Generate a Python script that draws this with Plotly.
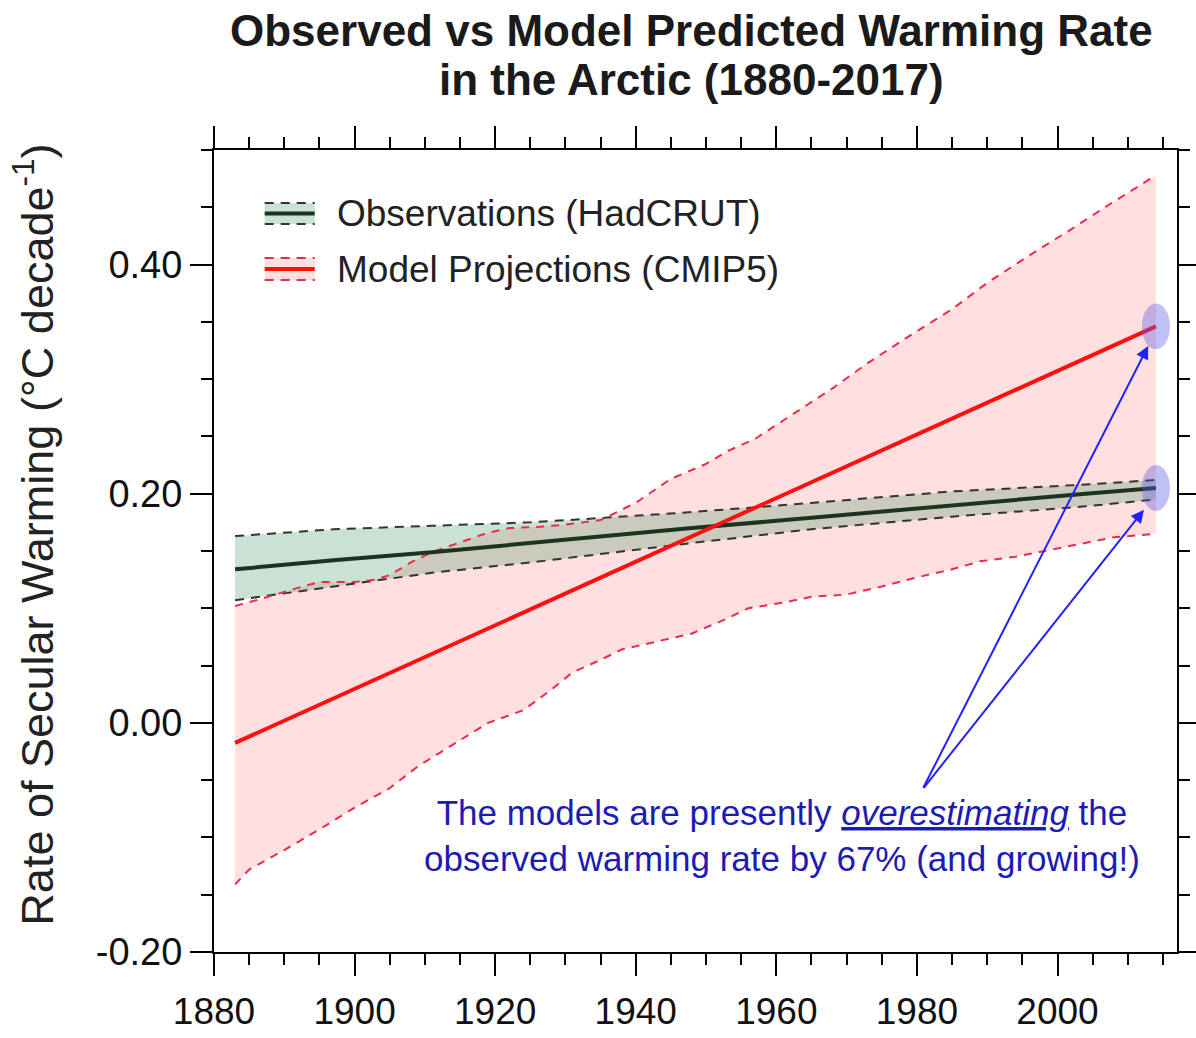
import plotly.graph_objects as go

# ---- Observations (HadCRUT): secular warming-rate trend and its envelope ----
obs_years = [1883, 1897, 1911, 1925, 1933, 1948, 1965, 1985, 2004, 2014]
obs_trend = [0.134, 0.142, 0.149, 0.157, 0.162, 0.170, 0.179, 0.190, 0.200, 0.205]
obs_upper = [0.163, 0.169, 0.172, 0.175, 0.178, 0.184, 0.192, 0.202, 0.208, 0.212]
obs_lower = [0.107, 0.119, 0.131, 0.140, 0.146, 0.157, 0.169, 0.180, 0.189, 0.195]

# ---- Model projections (CMIP5): ensemble trend and spread ----
model_years = [1883, 2014]
model_trend = [-0.0175, 0.346]

model_upper_years = [1883, 1886, 1892, 1895, 1900, 1903, 1905, 1908, 1911, 1916,
                     1919, 1922, 1926, 1930, 1935, 1940, 1945, 1950, 1953, 1957,
                     1962, 1968, 1973, 1979, 1985, 1990, 1996, 2002, 2007, 2014]
model_upper = [0.102, 0.107, 0.118, 0.123, 0.123, 0.125, 0.129, 0.140, 0.149, 0.160,
               0.166, 0.170, 0.171, 0.173, 0.177, 0.192, 0.213, 0.226, 0.237, 0.248,
               0.268, 0.292, 0.314, 0.338, 0.361, 0.384, 0.408, 0.431, 0.451, 0.478]

model_lower_years = [1883, 1885, 1890, 1895, 1900, 1905, 1909, 1914, 1919, 1924,
                     1928, 1931, 1935, 1938, 1943, 1948, 1953, 1956, 1961, 1965,
                     1970, 1975, 1980, 1985, 1989, 1994, 1999, 2004, 2008, 2014]
model_lower = [-0.141, -0.128, -0.111, -0.093, -0.074, -0.057, -0.038, -0.019, 0.000, 0.011,
               0.029, 0.044, 0.055, 0.064, 0.071, 0.078, 0.091, 0.100, 0.105, 0.110,
               0.112, 0.119, 0.127, 0.134, 0.141, 0.145, 0.151, 0.157, 0.162, 0.165]

# ---- Axis ticks ----
x_tick_vals = [1880, 1900, 1920, 1940, 1960, 1980, 2000]
y_tick_vals = [-0.2, 0.0, 0.2, 0.4]
y_tick_text = ["-0.20", "0.00", "0.20", "0.40"]

FONT = "Liberation Sans, Arial, Helvetica, sans-serif"

PINK_FILL = "rgba(255,150,150,0.30)"
GREEN_FILL = "rgba(80,160,110,0.30)"
OBS_LINE = "#1c3322"
OBS_DASH = "#333333"
MODEL_LINE = "#ff1010"
MODEL_DASH = "#ee2a4a"
BLUE = "#2222ff"
NOTE_BLUE = "#1c1cb4"

fig = go.Figure()

# model spread (pink band)
fig.add_trace(go.Scatter(
    x=model_upper_years + model_lower_years[::-1],
    y=model_upper + model_lower[::-1],
    fill="toself", fillcolor=PINK_FILL, line=dict(width=0),
    mode="lines", hoverinfo="skip", showlegend=False))

# observational envelope (green band)
fig.add_trace(go.Scatter(
    x=obs_years + obs_years[::-1],
    y=obs_upper + obs_lower[::-1],
    fill="toself", fillcolor=GREEN_FILL, line=dict(width=0),
    mode="lines", hoverinfo="skip", showlegend=False))

# dashed envelope edges
for ys in (obs_upper, obs_lower):
    fig.add_trace(go.Scatter(x=obs_years, y=ys, mode="lines",
                             line=dict(color=OBS_DASH, width=2, dash="9px,7px"),
                             showlegend=False))
fig.add_trace(go.Scatter(x=model_upper_years, y=model_upper, mode="lines",
                         line=dict(color=MODEL_DASH, width=2, dash="8px,7px"),
                         showlegend=False))
fig.add_trace(go.Scatter(x=model_lower_years, y=model_lower, mode="lines",
                         line=dict(color=MODEL_DASH, width=2, dash="8px,7px"),
                         showlegend=False))

# central trends
fig.add_trace(go.Scatter(x=obs_years, y=obs_trend, mode="lines",
                         line=dict(color=OBS_LINE, width=4),
                         name="Observations (HadCRUT)", showlegend=False))
fig.add_trace(go.Scatter(x=model_years, y=model_trend, mode="lines",
                         line=dict(color=MODEL_LINE, width=4),
                         name="Model Projections (CMIP5)", showlegend=False))

# highlight the present-day values
for yv in (model_trend[-1], obs_trend[-1]):
    fig.add_shape(type="circle", xref="x", yref="y",
                  x0=model_years[-1] - 2.0, x1=model_years[-1] + 2.0,
                  y0=yv - 0.020, y1=yv + 0.020,
                  fillcolor="rgba(90,90,230,0.38)", line=dict(width=0),
                  layer="above")

# arrows from the note to the highlighted values
tail_x, tail_y = 1980.8, -0.058
for hx, hy in ((model_years[-1] - 1.1, model_trend[-1] - 0.017),
               (obs_years[-1] - 1.7, obs_trend[-1] - 0.019)):
    fig.add_annotation(x=hx, y=hy, ax=tail_x, ay=tail_y,
                       xref="x", yref="y", axref="x", ayref="y",
                       text="", showarrow=True, arrowhead=2, arrowsize=1.3,
                       arrowwidth=2, arrowcolor=BLUE, standoff=0)

fig.add_annotation(
    x=1960.8, y=-0.098, xref="x", yref="y",
    text="The models are presently <i><u>overestimating</u></i> the<br>"
         "observed warming rate by 67% (and growing!)",
    showarrow=False, align="center", xanchor="center", yanchor="middle",
    font=dict(family=FONT, size=35, color=NOTE_BLUE))

# ---- hand-drawn legend (band + edges + central line) ----
def px_x(px):
    return (px - 214.3) / 962.7


def px_y(py):
    return (952.0 - py) / 802.0


legend_rows = [
    ("Observations (HadCRUT)", 213.5, 203, 224, GREEN_FILL, OBS_LINE, OBS_DASH),
    ("Model Projections (CMIP5)", 269.0, 258, 280, PINK_FILL, MODEL_LINE, MODEL_DASH),
]
for label, yc, ytop, ybot, fillc, linec, dashc in legend_rows:
    x0, x1 = px_x(265), px_x(315)
    fig.add_shape(type="rect", xref="paper", yref="paper",
                  x0=x0, x1=x1, y0=px_y(ybot), y1=px_y(ytop),
                  fillcolor=fillc, line=dict(width=0))
    for yy in (ytop, ybot):
        fig.add_shape(type="line", xref="paper", yref="paper",
                      x0=x0, x1=x1, y0=px_y(yy), y1=px_y(yy),
                      line=dict(color=dashc, width=2, dash="9px,7px"))
    fig.add_shape(type="line", xref="paper", yref="paper",
                  x0=x0, x1=x1, y0=px_y(yc), y1=px_y(yc),
                  line=dict(color=linec, width=4))
    fig.add_annotation(x=px_x(335), y=px_y(yc), xref="paper", yref="paper",
                       text=label, showarrow=False, xanchor="left", yanchor="middle",
                       font=dict(family=FONT, size=37, color="#222222"))

# title, one annotation per line for tight line spacing
title_lines = [("Observed vs Model Predicted Warming Rate", 30),
               ("in the Arctic (1880-2017)", 79)]
for line_text, yc in title_lines:
    fig.add_annotation(
        x=px_x(692), y=px_y(yc), xref="paper", yref="paper",
        text="<b>" + line_text + "</b>",
        showarrow=False, xanchor="center", yanchor="middle",
        font=dict(family=FONT, size=44, color="#1a1a1a"))

fig.add_annotation(
    x=px_x(34), y=px_y(535), xref="paper", yref="paper",
    text="Rate of Secular Warming (°C decade<sup>-1</sup>)",
    textangle=-90, showarrow=False, xanchor="center", yanchor="middle",
    font=dict(family=FONT, size=45, color="#222222"))

axis_common = dict(
    showgrid=False, zeroline=False, showline=True, linecolor="black", linewidth=2,
    mirror="ticks", ticks="outside", ticklen=22, tickwidth=2, tickcolor="black",
    automargin=False,
)

fig.update_xaxes(
    range=[1880, 2017], tickmode="array", tickvals=x_tick_vals,
    ticklabelstandoff=4, tickfont=dict(family=FONT, size=37, color="#111111"),
    minor=dict(dtick=5, tick0=1880, ticks="outside", ticklen=11, tickwidth=1.5,
               tickcolor="black", showgrid=False),
    **axis_common)

fig.update_yaxes(
    range=[-0.2, 0.5], tickmode="array", tickvals=y_tick_vals, ticktext=y_tick_text,
    tickfont=dict(family=FONT, size=38, color="#111111"),
    minor=dict(dtick=0.05, tick0=0, ticks="outside", ticklen=11, tickwidth=1.5,
               tickcolor="black", showgrid=False),
    **axis_common)

fig.update_layout(
    width=1196, height=1038,
    margin=dict(l=214, r=19, t=150, b=86, pad=0, autoexpand=False),
    paper_bgcolor="white", plot_bgcolor="white",
    showlegend=False,
    font=dict(family=FONT),
)

fig.write_html("out.html")
